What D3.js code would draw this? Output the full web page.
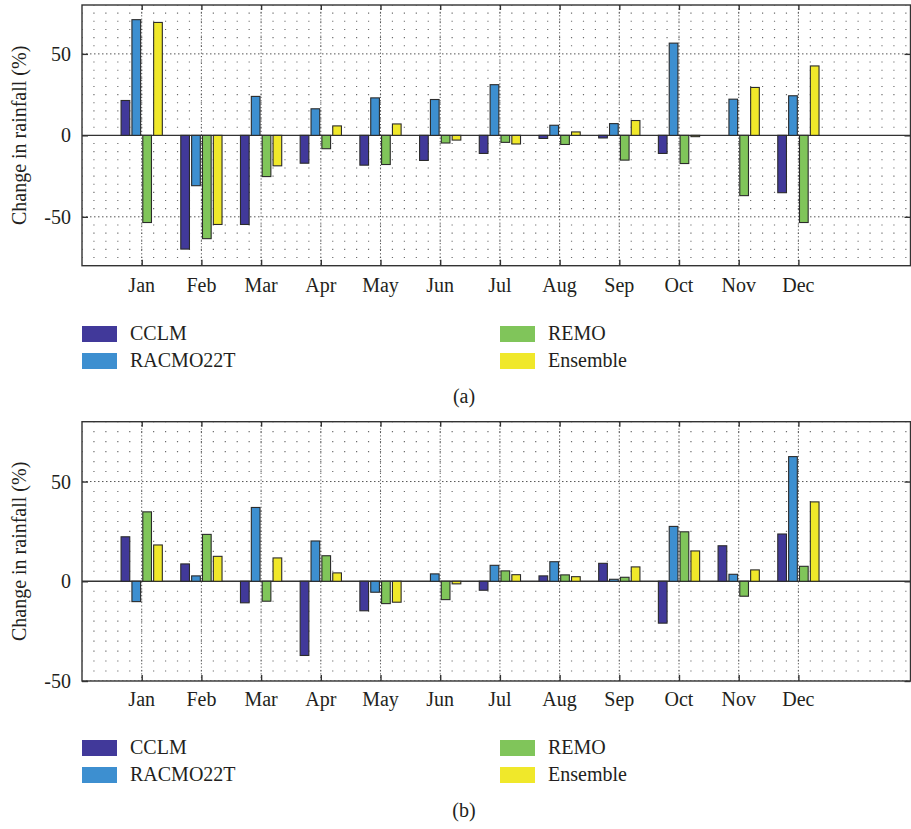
<!DOCTYPE html>
<html>
<head>
<meta charset="utf-8">
<script src="https://cdn.jsdelivr.net/npm/d3@7/dist/d3.min.js"></script>
<style>
  html, body { margin: 0; padding: 0; background: #fff; }
  svg { display: block; }
  text { font-family: "Liberation Serif", "DejaVu Serif", serif; fill: #231f20; }
</style>
</head>
<body>
<svg id="chart" width="911" height="829"></svg>
<script>
// ---- Data ----
const months = ["Jan","Feb","Mar","Apr","May","Jun","Jul","Aug","Sep","Oct","Nov","Dec"];
const seriesNames = ["CCLM","RACMO22T","REMO","Ensemble"];
const seriesColors = ["#41399a","#3d8fd0","#80c55a","#f0e82a"];

// Panel (a)
const cclmA     = [21.4, -69.8, -54.7, -17.1, -18.3, -15.4, -11.1, -1.9, -1.6, -11.1, 0, -35.2];
const racmoA    = [71.0, -30.9, 23.9, 16.3, 23.0, 22.0, 31.1, 6.2, 7.2, 56.6, 22.2, 24.3];
const remoA     = [-53.5, -63.4, -25.3, -8.2, -17.9, -4.7, -4.3, -5.6, -15.2, -17.3, -37.0, -53.5];
const ensembleA = [69.3, -54.7, -18.7, 5.8, 7.0, -2.9, -5.3, 2.1, 9.1, -0.8, 29.4, 42.6];

// Panel (b)
const cclmB     = [22.3, 8.7, -10.8, -37.2, -14.8, 0, -4.5, 2.7, 9.0, -21.0, 17.8, 23.7];
const racmoB    = [-10.2, 2.7, 37.0, 20.2, -5.5, 3.7, 8.0, 9.8, 1.0, 27.5, 3.5, 62.5];
const remoB     = [34.8, 23.5, -10.0, 12.8, -11.2, -9.2, 5.2, 3.2, 2.0, 24.8, -7.5, 7.5];
const ensembleB = [18.2, 12.5, 11.7, 4.2, -10.5, -1.3, 3.3, 2.3, 7.2, 15.2, 5.7, 39.8];

const yTickValues = [-50, 0, 50];
const yDomainA = [-80, 80];
const yDomainB = [-50, 80];
const yTitle = "Change in rainfall (%)";

// ---- Layout ----
const svg = d3.select("#chart");
const frameLeft = 82, frameRight = 910.5;
const monthStep = 59.7;
const x = d3.scaleLinear().domain([0, 14]).range([frameLeft, frameLeft + 14 * monthStep]);
const groupWidth = 4 / 5.5 * monthStep;
const xSub = d3.scaleBand().domain(seriesNames)
  .range([-groupWidth / 2, groupWidth / 2]).paddingInner(0.2).paddingOuter(0.1);

const panels = [
  { series: [cclmA, racmoA, remoA, ensembleA], domain: yDomainA, top: 5, bottom: 265.7,
    labelY: 291.5, legendTop: 326, caption: "(a)", captionY: 403 },
  { series: [cclmB, racmoB, remoB, ensembleB], domain: yDomainB, top: 421.7, bottom: 681,
    labelY: 706, legendTop: 740, caption: "(b)", captionY: 817 }
];

panels.forEach((p, pi) => {
  const g = svg.append("g");
  const y = d3.scaleLinear().domain(p.domain).range([p.bottom, p.top]);
  const cid = "clip" + pi;
  svg.append("clipPath").attr("id", cid).append("rect")
    .attr("x", frameLeft).attr("y", p.top).attr("width", frameRight - frameLeft).attr("height", p.bottom - p.top);

  const grid = g.append("g").attr("clip-path", `url(#${cid})`);
  // minor horizontal dot rows every 5 units
  const minorY = d3.range(Math.ceil(p.domain[0] / 5) * 5, p.domain[1] + 0.1, 5)
    .filter(v => !yTickValues.includes(v));
  const dotPeriod = monthStep / 5;
  grid.selectAll("line.minor").data(minorY).join("line")
    .attr("x1", frameLeft).attr("x2", frameRight)
    .attr("y1", d => y(d)).attr("y2", d => y(d))
    .attr("stroke", "#6b6b6b").attr("stroke-width", 1.1)
    .attr("stroke-dasharray", `1.2,${(dotPeriod - 1.2).toFixed(2)}`)
    .attr("stroke-dashoffset", -(dotPeriod - 0.6));
  // major horizontal grid at ticks
  grid.selectAll("line.majh").data(yTickValues.filter(v => v !== 0)).join("line")
    .attr("x1", frameLeft).attr("x2", frameRight)
    .attr("y1", d => y(d)).attr("y2", d => y(d))
    .attr("stroke", "#555").attr("stroke-width", 1)
    .attr("stroke-dasharray", "1.5,2.5");
  // major vertical grid at month ticks
  grid.selectAll("line.majv").data(months).join("line")
    .attr("x1", (d, i) => x(i + 1)).attr("x2", (d, i) => x(i + 1))
    .attr("y1", p.top).attr("y2", p.bottom)
    .attr("stroke", "#555").attr("stroke-width", 1)
    .attr("stroke-dasharray", "1.2,2.2");

  // zero line
  g.append("line").attr("x1", frameLeft).attr("x2", frameRight)
    .attr("y1", y(0)).attr("y2", y(0)).attr("stroke", "#333").attr("stroke-width", 1.3);

  // bars
  p.series.forEach((vals, si) => {
    g.append("g").selectAll("rect").data(vals).join("rect")
      .attr("x", (d, i) => x(i + 1) + xSub(seriesNames[si]))
      .attr("width", xSub.bandwidth())
      .attr("y", d => Math.min(y(d), y(0)))
      .attr("height", d => Math.abs(y(d) - y(0)))
      .attr("fill", seriesColors[si])
      .attr("stroke", "#2b2b2b").attr("stroke-width", 1.1);
  });

  // frame
  g.append("rect").attr("x", frameLeft).attr("y", p.top)
    .attr("width", frameRight - frameLeft).attr("height", p.bottom - p.top)
    .attr("fill", "none").attr("stroke", "#333").attr("stroke-width", 1.4);

  // y axis (left, inward ticks)
  const yAxisL = d3.axisRight(y).tickValues(yTickValues).tickSize(6).tickFormat("");
  g.append("g").attr("transform", `translate(${frameLeft},0)`).call(yAxisL)
    .call(s => s.select(".domain").remove())
    .call(s => s.selectAll("line").attr("stroke", "#333").attr("stroke-width", 1.4));
  const yAxisR = d3.axisLeft(y).tickValues(yTickValues).tickSize(6).tickFormat("");
  g.append("g").attr("transform", `translate(${frameRight},0)`).call(yAxisR)
    .call(s => s.select(".domain").remove())
    .call(s => s.selectAll("line").attr("stroke", "#333").attr("stroke-width", 1.4));
  g.selectAll("text.ylab").data(yTickValues).join("text").attr("class", "ylab")
    .attr("x", 71).attr("y", d => y(d)).attr("dy", "0.35em")
    .attr("text-anchor", "end").attr("font-size", 20).text(d => d);

  // x axis (bottom & top, inward ticks)
  const xTickVals = months.map((m, i) => i + 1);
  const xAxisB = d3.axisTop(x).tickValues(xTickVals).tickSize(6).tickFormat("");
  g.append("g").attr("transform", `translate(0,${p.bottom})`).call(xAxisB)
    .call(s => s.select(".domain").remove())
    .call(s => s.selectAll("line").attr("stroke", "#333").attr("stroke-width", 1.4));
  const xAxisT = d3.axisBottom(x).tickValues(xTickVals).tickSize(5).tickFormat("");
  g.append("g").attr("transform", `translate(0,${p.top})`).call(xAxisT)
    .call(s => s.select(".domain").remove())
    .call(s => s.selectAll("line").attr("stroke", "#333").attr("stroke-width", 1.4));
  g.selectAll("text.xlab").data(months).join("text").attr("class", "xlab")
    .attr("x", (d, i) => x(i + 1)).attr("y", p.labelY)
    .attr("text-anchor", "middle").attr("font-size", 20).text(d => d);

  // y title
  g.append("text")
    .attr("transform", `translate(26,${(p.top + p.bottom) / 2}) rotate(-90)`)
    .attr("text-anchor", "middle").attr("font-size", 20).text(yTitle);

  // legend
  const legendPos = [[82, 0], [82, 1], [500, 0], [500, 1]];
  seriesNames.forEach((name, si) => {
    const [lx, row] = legendPos[si];
    const ly = p.legendTop + row * 27;
    g.append("rect").attr("x", lx).attr("y", ly).attr("width", 35).attr("height", 16)
      .attr("fill", seriesColors[si]);
    g.append("text").attr("x", lx + 48).attr("y", ly + 14)
      .attr("font-size", 20).text(name);
  });

  // caption
  g.append("text").attr("x", 464).attr("y", p.captionY)
    .attr("text-anchor", "middle").attr("font-size", 20).text(p.caption);
});
</script>
</body>
</html>
